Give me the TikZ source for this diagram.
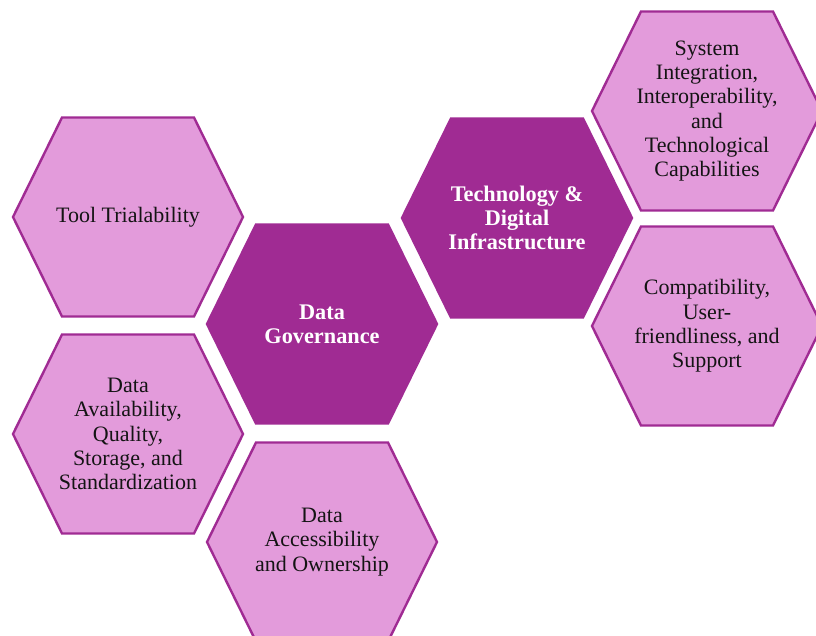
\documentclass[tikz,border=0pt]{standalone}
\usepackage{fontspec}
\setmainfont{Liberation Serif}
\definecolor{hexdark}{HTML}{A02B93}
\definecolor{hexlight}{HTML}{E39BDB}
\definecolor{hexink}{HTML}{141414}
\tikzset{
  lighthex/.style={draw=hexdark, fill=hexlight, line width=2.4pt, line join=miter},
  darkhex/.style={draw=hexdark, fill=hexdark, line width=2.4pt, line join=miter},
  lightlabel/.style={align=center, text=hexink, inner sep=0pt,
    font=\fontsize{22}{24.3}\selectfont},
  darklabel/.style={align=center, text=white, inner sep=0pt,
    font=\fontsize{22.3}{23.8}\selectfont\bfseries},
}
% hexagon with flat top and bottom, pointed left and right
% #1 name, #2 x, #3 y, #4 shape style, #5 label style, #6 text
\newcommand\hexcell[6]{%
  \draw[#4] (#2,#3) ++(-115,0) -- ++(49,-99.5) -- ++(132,0) -- ++(49,99.5)
    -- ++(-49,99.5) -- ++(-132,0) -- cycle;
  \node[#5] (#1) at (#2,#3) {#6};
}
\begin{document}
\begin{tikzpicture}[x=1pt, y=-1pt]
  \useasboundingbox (0,0) rectangle (816,636);
  \clip (0,0) rectangle (816,636);
  \hexcell{trial}{128}{217}{lighthex}{lightlabel}{Tool Trialability}
  \hexcell{avail}{128}{434}{lighthex}{lightlabel}{Data\\Availability,\\Quality,\\Storage, and\\Standardization}
  \hexcell{gov}{322}{324}{darkhex}{darklabel}{Data\\Governance}
  \hexcell{access}{322}{542}{lighthex}{lightlabel}{Data\\Accessibility\\and Ownership}
  \hexcell{tech}{517}{218}{darkhex}{darklabel}{Technology \&\\Digital\\Infrastructure}
  \hexcell{sysint}{707}{111}{lighthex}{lightlabel}{System\\Integration,\\Interoperability,\\and\\Technological\\Capabilities}
  \hexcell{compat}{707}{326}{lighthex}{lightlabel}{Compatibility,\\User-\\friendliness, and\\Support}
\end{tikzpicture}
\end{document}
